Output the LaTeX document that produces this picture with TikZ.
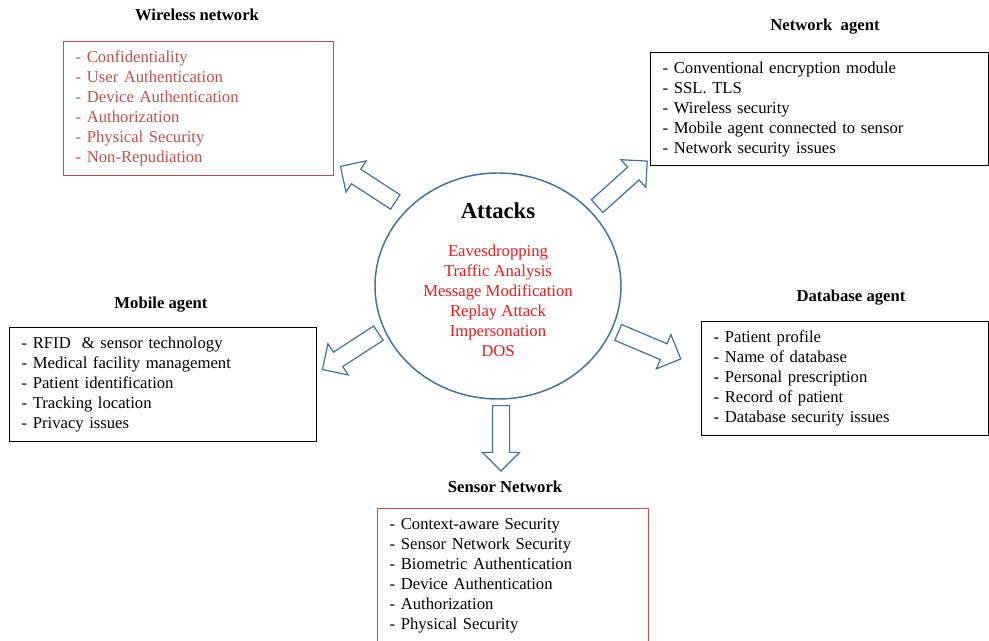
\documentclass[tikz,border=0pt]{standalone}
\usepackage{fontspec}
\setmainfont{Liberation Serif}
\usetikzlibrary{shapes.geometric,shapes.arrows}
\definecolor{boxred}{HTML}{C0504D}
\definecolor{attred}{HTML}{F01818}
\definecolor{ringblue}{HTML}{41719C}
\tikzset{
  listbox/.style={draw, line width=1.1pt, anchor=north west, align=left,
    inner xsep=9pt, font=\fontsize{12.5}{15}\selectfont},
  heading/.style={font=\fontsize{12.5}{15}\selectfont\bfseries},
  blockarrow/.style={single arrow, draw=ringblue, line width=0.9pt, fill=white,
    inner sep=0pt, single arrow head extend=7.5pt,
    single arrow head indent=0pt},
}
\newcommand{\shaftrule}{\rule{0pt}{12pt}}
\begin{document}
\begin{tikzpicture}[x=0.75pt, y=-0.75pt]
  \useasboundingbox (0,0) rectangle (989,641);
  % Centre: attacks
  \node[ellipse, draw=ringblue, line width=1.1pt, minimum width=184.5pt,
    minimum height=169.5pt] (att) at (498,286) {};
  \node[font=\fontsize{17}{20}\selectfont\bfseries] (atttitle) at (498,211) {Attacks};
  \node[align=center, text=attred, font=\fontsize{12.5}{15}\selectfont] (attlist) at (498,301)
    {Eavesdropping\\Traffic Analysis\\Message Modification\\Replay Attack\\Impersonation\\DOS};
  % Wireless network
  \node[heading] (wltitle) at (197,15) {Wireless network};
  \node[listbox, draw=boxred, text=boxred, minimum width=202.5pt, minimum height=100.5pt,
    text width=184.5pt] (wl) at (63,41)
    {- Confidentiality\\- User Authentication\\- Device Authentication\\- Authorization\\- Physical Security\\- Non-Repudiation};
  % Network agent
  \node[heading] (natitle) at (825,27) {Network~~agent};
  \node[listbox, minimum width=253.5pt, minimum height=84.75pt, text width=235.5pt] (na) at (650,52)
    {- Conventional encryption module\\- SSL. TLS\\- Wireless security\\- Mobile agent connected to sensor\\- Network security issues};
  % Mobile agent
  \node[heading] (matitle) at (161,305) {Mobile agent};
  \node[listbox, minimum width=230.25pt, minimum height=85.5pt, text width=212.25pt] (ma) at (9,327)
    {- RFID~~\& sensor technology\\- Medical facility management\\- Patient identification\\- Tracking location\\- Privacy issues};
  % Database agent
  \node[heading] (dbtitle) at (851,298) {Database agent};
  \node[listbox, minimum width=215.25pt, minimum height=85.5pt, text width=197.25pt] (db) at (701,321)
    {- Patient profile\\- Name of database\\- Personal prescription\\- Record of patient\\- Database security issues};
  % Sensor network
  \node[heading] (sntitle) at (505,487) {Sensor Network};
  \node[listbox, draw=boxred, minimum width=203.25pt, minimum height=100.5pt,
    text width=185.25pt] (sn) at (377,508)
    {- Context-aware Security\\- Sensor Network Security\\- Biometric Authentication\\- Device Authentication\\- Authorization\\- Physical Security};
  % Block arrows
  \node[blockarrow, minimum height=49pt, rotate=147] (awl) at (371.5,186.5) {\shaftrule};
  \node[blockarrow, minimum height=50.5pt, rotate=42] (ana) at (619,186.5) {\shaftrule};
  \node[blockarrow, minimum height=50pt, rotate=213] (ama) at (354,349) {\shaftrule};
  \node[blockarrow, minimum height=51pt, rotate=-23] (adb) at (645.5,344) {\shaftrule};
  \node[blockarrow, minimum height=49pt, rotate=-90] (asn) at (501,434) {\shaftrule};
\end{tikzpicture}
\end{document}
